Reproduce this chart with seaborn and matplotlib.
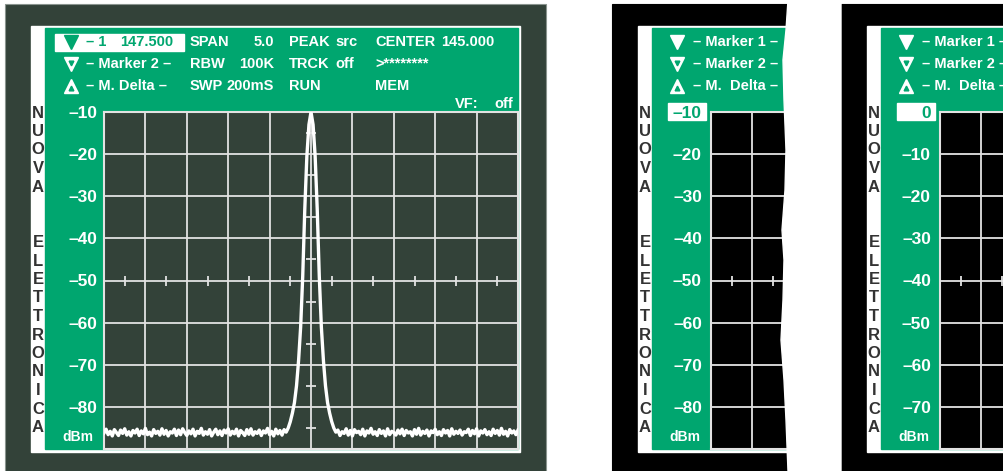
import numpy as np
import matplotlib
matplotlib.use("Agg")
import matplotlib.pyplot as plt
import seaborn as sns
from matplotlib.patches import Rectangle, Polygon

center_mhz = 145.0
span_mhz = 5.0
db_per_div = 10
ref_levels = [-10, -10, 0]          # top graticule line of each screen, dBm

# sweep trace of the main screen (dBm), equally spaced across the span
trace_left = [
    -86.2, -85.3, -86.6, -85.8, -86.9, -85.4, -86.1, -86.8, -85.5, -86.3,
    -85.2, -86.7, -85.9, -86.9, -85.6, -86.2, -85.3, -86.8, -85.7, -86.4,
    -85.1, -86.6, -86.0, -86.9, -85.4, -86.3, -85.8, -86.7, -85.2, -86.5,
    -85.6, -86.9, -85.9, -86.2, -85.3, -86.8, -85.5, -86.6, -85.2, -86.1,
    -86.8, -85.7, -86.4, -85.3, -86.9, -85.8, -86.3, -85.1, -86.7, -85.9,
    -86.5, -85.4, -86.9, -86.0, -85.3, -86.6, -85.7, -86.8, -85.5, -86.2,
    -85.2, -86.7, -85.8, -86.4, -85.3, -86.9, -85.6, -86.1, -86.8, -85.4,
    -86.5, -85.2, -86.7, -85.9, -86.3, -85.5, -86.8, -85.7, -86.2, -85.1,
    -86.6, -85.8, -86.9, -85.3, -86.4, -85.6, -86.7, -85.4,
]
trace_peak = [
    -86.0, -85.0, -83.5, -81.5, -79.0, -75.0, -69.0, -61.0, -49.0, -33.0,
    -20.5, -13.0, -10.0, -13.0, -20.5, -33.0, -49.0, -61.0, -69.0, -75.0,
    -79.0, -81.5, -83.5, -85.0, -86.0,
]
trace_right = [
    -85.5, -86.8, -85.9, -86.3, -85.2, -86.7, -85.6, -86.9, -85.4, -86.1,
    -85.8, -86.6, -85.3, -86.9, -85.7, -86.2, -85.1, -86.5, -85.9, -86.8,
    -85.4, -86.3, -85.7, -86.9, -85.2, -86.6, -85.8, -86.1, -86.7, -85.5,
    -86.4, -85.3, -86.8, -85.6, -86.2, -85.9, -86.9, -85.4, -86.5, -85.1,
    -86.7, -85.8, -86.3, -85.5, -86.9, -85.7, -86.1, -85.3, -86.6, -85.9,
    -86.8, -85.4, -86.2, -85.6, -86.9, -85.2, -86.5, -85.8, -86.3, -85.5,
    -86.7, -85.9, -86.1, -85.3, -86.8, -85.6, -86.4, -85.2, -86.9, -85.7,
    -86.2, -85.4, -86.6, -85.9, -86.8, -85.3, -86.3, -85.6, -86.7, -85.1,
    -86.5, -85.8, -86.9, -85.4, -86.2, -85.7, -86.6, -85.5,
]
trace_dbm = trace_left + trace_peak + trace_right

marker_rows = ["– Marker 1 –", "– Marker 2 –", "– M.  Delta –"]
main_marker_rows = ["– 1", "– Marker 2 –", "– M. Delta –"]
marker1_freq = "147.500"
col_a = [("SPAN", "5.0"), ("RBW", "100K"), ("SWP", "200mS")]
col_b = [("PEAK", "src"), ("TRCK", "off"), ("RUN", "")]
col_c = [("CENTER", "145.000"), (">********", ""), ("MEM", "")]
vf_label = ("VF:", "off")
brand = "NUOVA  ELETTRONICA"
unit = "dBm"

# ---- style ----
GREEN = "#00a66f"
DARK = "#334239"
GRID = "#e2e2e2"
INK = "#333333"
W, H = 1004, 471
DIV_PX = 41.4
TOP_PX, BOT_PX = 112, 449
ROWS_Y = [42, 64, 86]

plt.rcParams["font.family"] = ["Liberation Sans", "DejaVu Sans"]
plt.rcParams["font.weight"] = "bold"

fig = plt.figure(figsize=(W / 100, H / 100), dpi=100)
fig.patch.set_facecolor("white")
bg = fig.add_axes([0, 0, 1, 1])
bg.set_xlim(0, W)
bg.set_ylim(H, 0)
bg.axis("off")


def triangle(x, y, kind, face, hole):
    m = "v" if kind == "down" else "^"
    bg.plot(x, y, marker=m, ms=9.5, color=face, mec=face, zorder=5)
    if hole:
        dy = -1.5 if kind == "down" else 1.5
        bg.plot(x, y + dy, marker=m, ms=3.4, color=GREEN, mec=GREEN, zorder=6)


def screen(x0, x1, top, frame, face, boxed, pad):
    # bezel, white margin and green panel
    bg.add_patch(Rectangle((x0 - 99, 4), x1 - x0 + 127, H, color=frame,
                           ec="#8a948f" if frame == DARK else frame, lw=0.8))
    bg.add_patch(Rectangle((x0 - 73, 26), x1 - x0 + 75, 426, color="white"))
    bg.add_patch(Rectangle((x0 - 59, 28), x1 - x0 + 59, 421, color=GREEN))
    for i, ch in enumerate(brand):
        bg.text(x0 - 66, 113 + i * 18.5, ch, color=INK, fontsize=12,
                family=["Liberation Sans Narrow", "Liberation Sans"],
                ha="center", va="center")
    bg.text(x0 - 26, 437, unit, color="white", fontsize=10, ha="center", va="center")
    if boxed:
        bg.add_patch(Rectangle((x0 - 43, 103), 38, 17, color="white", zorder=3))

    ax = fig.add_axes([x0 / W, 1 - BOT_PX / H, (x1 - x0) / W, (BOT_PX - TOP_PX) / H])
    lo = center_mhz - span_mhz / 2
    div = span_mhz / 10
    ax.set_facecolor(face)
    ax.set_xticks(np.arange(lo, lo + 11 * div, div))
    levels = np.arange(top - 8 * db_per_div, top + 1, db_per_div)
    ax.set_yticks(levels)
    ax.set_yticklabels([""] + [f"–{abs(v)}" if v < 0 else str(v) for v in levels[1:]])
    ax.tick_params(axis="x", length=0, labelbottom=False)
    ax.tick_params(axis="y", length=0, pad=pad, labelsize=12.5, labelcolor="white")
    if boxed:
        ax.get_yticklabels()[-1].set_color(GREEN)
    ax.grid(True, color=GRID, lw=1.3)
    for s in ax.spines.values():
        s.set_color(GRID)
        s.set_linewidth(1.5)
    # graticule minor ticks on the centre lines
    mid = top - 4 * db_per_div
    half = lo + div / 2 + np.arange(10) * div
    ax.plot(half, [mid] * len(half), ls="none", marker="|", ms=7, mew=1.3, color=GRID)
    ax.plot([center_mhz] * 8, top - 5 - np.arange(8) * db_per_div, ls="none",
            marker="_", ms=7, mew=1.3, color=GRID)
    ax.set_xlim(lo, lo + (x1 - x0) / DIV_PX * div)
    ax.set_ylim(top - 8 * db_per_div, top)
    return ax


# ---- main screen ----
ax = screen(104, 518, ref_levels[0], DARK, DARK, False, 4.5)
freqs = np.linspace(center_mhz - span_mhz / 2, center_mhz + span_mhz / 2, len(trace_dbm))
sns.lineplot(x=freqs, y=trace_dbm, ax=ax, color="white", lw=2.4,
             estimator=None, sort=False, zorder=4)
ax.set_xlim(center_mhz - span_mhz / 2, center_mhz + span_mhz / 2)
ax.set_ylim(ref_levels[0] - 8 * db_per_div, ref_levels[0])
ax.set_xlabel("")
ax.set_ylabel("")

bg.add_patch(Rectangle((55, 34), 129, 17, color="white", zorder=3))
triangle(71, 42, "down", GREEN, False)
triangle(71, 64, "down", "white", True)
triangle(71, 86, "up", "white", True)
for i, txt in enumerate(main_marker_rows):
    bg.text(86, ROWS_Y[i], txt, color=GREEN if i == 0 else "white", fontsize=10.5,
            va="center", zorder=6)
bg.text(120, ROWS_Y[0], marker1_freq, color=GREEN, fontsize=10.5, va="center", zorder=6)
for i in range(3):
    bg.text(190, ROWS_Y[i], col_a[i][0], color="white", fontsize=10.5, va="center")
    bg.text(274, ROWS_Y[i], col_a[i][1], color="white", fontsize=10.5, va="center", ha="right")
    bg.text(289, ROWS_Y[i], col_b[i][0], color="white", fontsize=10.5, va="center")
    bg.text(335, ROWS_Y[i], col_b[i][1], color="white", fontsize=10.5, va="center")
    bg.text(375, ROWS_Y[i], col_c[i][0], color="white", fontsize=10.5, va="center")
    bg.text(441, ROWS_Y[i], col_c[i][1], color="white", fontsize=10.5, va="center")
bg.text(455, 104, vf_label[0], color="white", fontsize=10.5, va="center")
bg.text(513, 104, vf_label[1], color="white", fontsize=10.5, va="center", ha="right")

# ---- two cut-off screens on the right ----
for x0, x1, top in [(711, 810, ref_levels[1]), (940, 1020, ref_levels[2])]:
    screen(x0, x1, top, "black", "black", True, 6.5)
    triangle(x0 - 34, ROWS_Y[0], "down", "white", False)
    triangle(x0 - 34, ROWS_Y[1], "down", "white", True)
    triangle(x0 - 34, ROWS_Y[2], "up", "white", True)
    for i, txt in enumerate(marker_rows):
        bg.text(x0 - 18, ROWS_Y[i], txt, color="white", fontsize=10.5, va="center")

# torn edge of the middle screen
over = fig.add_axes([0, 0, 1, 1], zorder=20)
over.set_xlim(0, W)
over.set_ylim(H, 0)
over.axis("off")
over.patch.set_alpha(0)
edge = [(788, 0), (786, 30), (783, 60), (784, 100), (786, 150), (785, 190),
        (782, 230), (784, 260), (783, 300), (781, 340), (784, 380), (786, 420),
        (788, 471)]
over.add_patch(Polygon(edge + [(841, 471), (841, 0)], closed=True, color="white"))

fig.savefig("out.png", dpi=100, facecolor="white")
